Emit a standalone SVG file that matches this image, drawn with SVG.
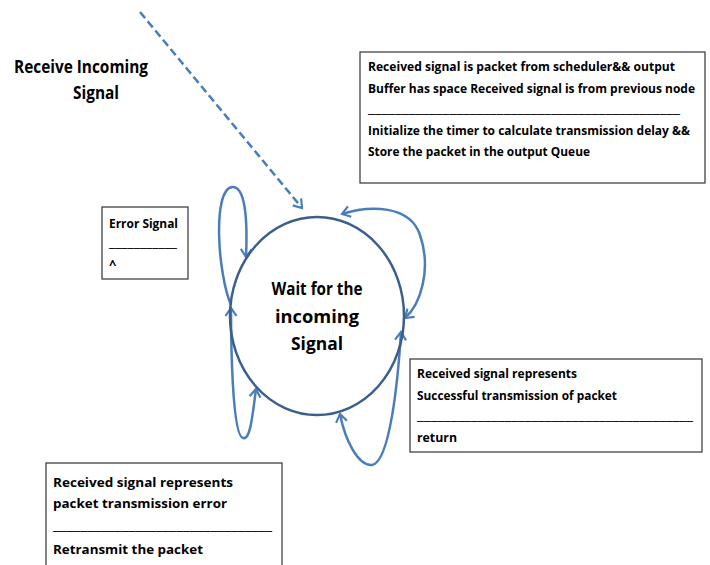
<svg xmlns="http://www.w3.org/2000/svg" width="710" height="565" viewBox="0 0 710 565">
<style>
  text { font-family: "Open Sans", "Liberation Sans", sans-serif; font-weight: 700; fill: #000; }
  .t { font-size: 13px; }
  .s { font-size: 12px; }
  .big { font-size: 18px; }
  .box { fill: #fff; stroke: #333; stroke-width: 1.2; }
  .loop { fill: none; stroke: #4a7ebb; stroke-width: 2.5; }
</style>
<defs>
  <marker id="arr" markerUnits="userSpaceOnUse" markerWidth="16" markerHeight="16" refX="10" refY="6" orient="auto-start-reverse" viewBox="0 0 16 12">
    <path d="M2,0.5 L10,6 L2,11.5" fill="none" stroke="#4a7ebb" stroke-width="2.2"/>
  </marker>
</defs>
<rect width="710" height="565" fill="#fff"/>

<g id="title">
  <text class="big" x="14" y="73" textLength="134" lengthAdjust="spacingAndGlyphs">Receive Incoming</text>
  <text class="big" x="73" y="99" textLength="46" lengthAdjust="spacingAndGlyphs">Signal</text>
</g>

<g id="connectors">
  <path d="M140,12 L302,208" fill="none" stroke="#4a7ebb" stroke-width="2.5" stroke-dasharray="8,4" marker-end="url(#arr)"/>
  <path class="loop" d="M231,305 C 218,275 212,190 232,187 C 248,185 247,235 246,257" marker-end="url(#arr)"/>
  <path class="loop" d="M256,389 C 252,420 250,440 243,438 C 232,436 231,340 231,308" marker-start="url(#arr)" marker-end="url(#arr)"/>
  <path class="loop" d="M342,214 C 370,205 410,205 420,235 C 432,270 420,305 405,318" marker-start="url(#arr)" marker-end="url(#arr)"/>
  <path class="loop" d="M340,414 C 345,440 358,466 372,465 C 390,462 398,380 401,332" marker-start="url(#arr)" marker-end="url(#arr)"/>
</g>

<g id="state">
  <ellipse cx="317" cy="316" rx="87" ry="99" fill="none" stroke="#3b5f8d" stroke-width="2.5"/>
  <text class="big" x="317" y="295" text-anchor="middle" textLength="91" lengthAdjust="spacingAndGlyphs">Wait for the</text>
  <text class="big" x="317" y="323" text-anchor="middle" textLength="84" lengthAdjust="spacingAndGlyphs">incoming</text>
  <text class="big" x="317" y="350" text-anchor="middle" textLength="52" lengthAdjust="spacingAndGlyphs">Signal</text>
</g>

<g id="error-box">
  <rect class="box" x="102" y="207" width="86" height="72"/>
  <text class="t" x="109" y="228" textLength="69" lengthAdjust="spacingAndGlyphs">Error Signal</text>
  <text class="t" x="109" y="247" textLength="68" lengthAdjust="spacingAndGlyphs">___________</text>
  <text class="t" x="109" y="269">^</text>
</g>

<g id="top-box">
  <rect class="box" x="360" y="52" width="345" height="131"/>
  <text class="t" x="368" y="71" textLength="307" lengthAdjust="spacingAndGlyphs">Received signal is packet from scheduler&amp;&amp; output</text>
  <text class="s" x="368" y="93" textLength="327" lengthAdjust="spacingAndGlyphs">Buffer has space Received signal is from previous node</text>
  <text class="t" x="368" y="113" textLength="312" lengthAdjust="spacingAndGlyphs">______________________________________________</text>
  <text class="s" x="368" y="135" textLength="322" lengthAdjust="spacingAndGlyphs">Initialize the timer to calculate transmission delay &amp;&amp;</text>
  <text class="t" x="368" y="156" textLength="222" lengthAdjust="spacingAndGlyphs">Store the packet in the output Queue</text>
</g>

<g id="success-box">
  <rect class="box" x="410" y="359" width="292" height="93"/>
  <text class="t" x="417" y="378" textLength="160" lengthAdjust="spacingAndGlyphs">Received signal represents</text>
  <text class="t" x="417" y="400" textLength="200" lengthAdjust="spacingAndGlyphs">Successful transmission of packet</text>
  <text class="t" x="417" y="420" textLength="276" lengthAdjust="spacingAndGlyphs">_________________________________________</text>
  <text class="t" x="417" y="442" textLength="40" lengthAdjust="spacingAndGlyphs">return</text>
</g>

<g id="error-trans-box">
  <rect class="box" x="46" y="463" width="236" height="110"/>
  <text class="t" x="53" y="487" textLength="180" lengthAdjust="spacingAndGlyphs">Received signal  represents</text>
  <text class="t" x="53" y="508" textLength="174" lengthAdjust="spacingAndGlyphs">packet transmission  error</text>
  <text class="t" x="53" y="530" textLength="219" lengthAdjust="spacingAndGlyphs">________________________________</text>
  <text class="t" x="53" y="554" textLength="150" lengthAdjust="spacingAndGlyphs">Retransmit the packet</text>
</g>
</svg>
